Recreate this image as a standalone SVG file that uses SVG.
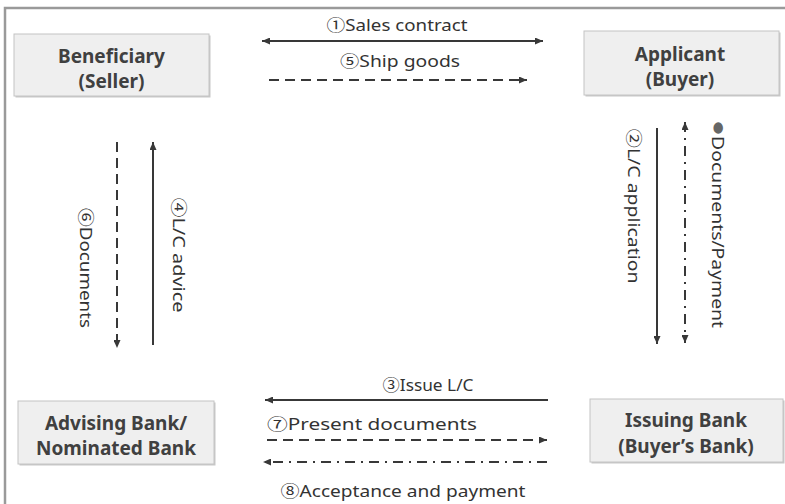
<svg xmlns="http://www.w3.org/2000/svg" width="785" height="504" viewBox="0 0 785 504">
  <style>
    .box { fill: #efefef; stroke: #c4c4c4; stroke-width: 1; }
    .shadow { fill: #c8c8c8; }
    .title { font-family: "Noto Sans", "Liberation Sans", sans-serif; font-weight: bold; font-size: 19px; fill: #404040; text-anchor: middle; }
    .label { font-family: "Noto Sans", "Liberation Sans", "Noto Sans CJK KR", sans-serif; font-size: 16px; fill: #333; text-anchor: middle; }
    .solid { stroke: #383838; stroke-width: 2; fill: none; }
    .dash { stroke: #383838; stroke-width: 2; fill: none; stroke-dasharray: 10 6; }
    .dashdot { stroke: #383838; stroke-width: 2; fill: none; stroke-dasharray: 10 6 2 6; }
  </style>
  <defs>
    <marker id="head" markerWidth="8" markerHeight="7" refX="8" refY="3.5" orient="auto-start-reverse" markerUnits="userSpaceOnUse">
      <path d="M0,0 L8,3.5 L0,7 z" fill="#383838"/>
    </marker>
  </defs>

  <rect width="785" height="504" fill="#ffffff"/>
  <!-- outer frame: top and left edges only -->
  <path d="M5,504 L5,8 L785,8" fill="none" stroke="#9a9a9a" stroke-width="2.5"/>

  <g id="beneficiary">
    <rect class="shadow" x="15.5" y="35.5" width="195" height="62"/>
    <rect class="box" x="14" y="34" width="195" height="62"/>
    <text class="title" x="111.5" y="63">Beneficiary</text>
    <text class="title" x="111.5" y="88">(Seller)</text>
  </g>

  <g id="applicant">
    <rect class="shadow" x="585.5" y="32.5" width="195" height="64"/>
    <rect class="box" x="584" y="31" width="195" height="64"/>
    <text class="title" x="680" y="61">Applicant</text>
    <text class="title" x="680" y="86">(Buyer)</text>
  </g>

  <g id="advising-bank">
    <rect class="shadow" x="19.5" y="402.5" width="196" height="63"/>
    <rect class="box" x="18" y="401" width="196" height="63"/>
    <text class="title" x="116" y="430">Advising Bank/</text>
    <text class="title" x="116" y="455">Nominated Bank</text>
  </g>

  <g id="issuing-bank">
    <rect class="shadow" x="591.5" y="400.5" width="193" height="63"/>
    <rect class="box" x="590" y="399" width="193" height="63"/>
    <text class="title" x="686" y="427">Issuing Bank</text>
    <text class="title" x="686" y="453">(Buyer’s Bank)</text>
  </g>

  <g id="connectors">
    <line class="solid" x1="262" y1="41" x2="543" y2="41" marker-start="url(#head)" marker-end="url(#head)"/>
    <line class="dash" x1="269" y1="80" x2="527" y2="80" marker-end="url(#head)"/>
    <line class="dash" x1="117" y1="142" x2="117" y2="348" marker-end="url(#head)"/>
    <line class="solid" x1="153" y1="345" x2="153" y2="142" marker-end="url(#head)"/>
    <line class="solid" x1="657" y1="128" x2="657" y2="344" marker-end="url(#head)"/>
    <line class="dashdot" x1="685" y1="122" x2="685" y2="343" marker-start="url(#head)" marker-end="url(#head)"/>
    <line class="solid" x1="548" y1="400" x2="265" y2="400" marker-end="url(#head)" stroke="#555"/>
    <line class="dash" x1="267" y1="440" x2="547" y2="440" marker-end="url(#head)"/>
    <line class="dashdot" x1="547" y1="462" x2="263" y2="462" marker-end="url(#head)"/>
  </g>

  <g id="labels">
    <text class="label" x="397" y="31" textLength="141" lengthAdjust="spacingAndGlyphs">①Sales contract</text>
    <text class="label" x="400" y="67" textLength="120" lengthAdjust="spacingAndGlyphs">⑤Ship goods</text>
    <text class="label" transform="translate(80,268) rotate(90)" textLength="120" lengthAdjust="spacingAndGlyphs">⑥Documents</text>
    <text class="label" transform="translate(173,255) rotate(90)" textLength="115" lengthAdjust="spacingAndGlyphs">④L/C advice</text>
    <text class="label" transform="translate(628,206) rotate(90)" textLength="155" lengthAdjust="spacingAndGlyphs">②L/C application</text>
    <text class="label" transform="translate(712,224) rotate(90)" textLength="208" lengthAdjust="spacingAndGlyphs"><tspan fill="#666" font-size="22">●</tspan>Documents/Payment</text>
    <text class="label" x="428" y="391" textLength="91" lengthAdjust="spacingAndGlyphs">③Issue L/C</text>
    <text class="label" x="372" y="430" textLength="210" lengthAdjust="spacingAndGlyphs">⑦Present documents</text>
    <text class="label" x="403" y="497" textLength="245" lengthAdjust="spacingAndGlyphs">⑧Acceptance and payment</text>
  </g>
</svg>
